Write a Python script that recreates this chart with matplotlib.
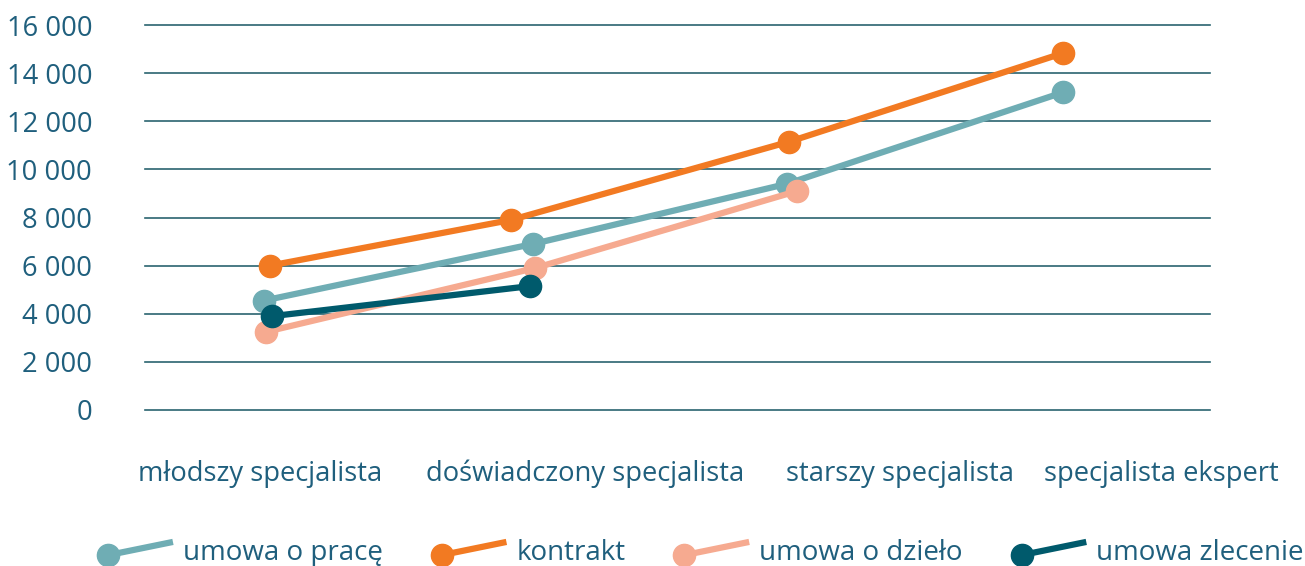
import matplotlib
matplotlib.use("Agg")
import matplotlib.pyplot as plt
from matplotlib.legend_handler import HandlerBase
from matplotlib.lines import Line2D
import numpy as np

# categories and monthly pay (PLN) per contract type
categories = ["młodszy specjalista", "doświadczony specjalista",
              "starszy specjalista", "specjalista ekspert"]
umowa_o_prace = [4550, 6900, 9400, 13200]
kontrakt = [6000, 7900, 11150, 14830]
umowa_o_dzielo = [3250, 5900, 9100]
umowa_zlecenie = [3900, 5150]

series_names = ["umowa o pracę", "kontrakt", "umowa o dzieło", "umowa zlecenie"]
series_values = [umowa_o_prace, kontrakt, umowa_o_dzielo, umowa_zlecenie]
colors = ["#6fadb4", "#f27a22", "#f6aa90", "#005a6c"]
# small horizontal nudges so markers don't sit exactly on top of each other
nudges = [[0, 0.01, -0.036, 0.0],
          [0.022, -0.072, -0.028, 0.0],
          [0.008, 0.018, 0.002],
          [0.03, 0.0]]
label_pos = [-0.015, 1.206, 2.388, 3.371]

text_col = "#1f5f7d"
grid_col = "#2a6470"
plt.rcParams["font.family"] = ["Open Sans", "DejaVu Sans"]


class SlopedHandler(HandlerBase):
    # marker on the left, line rising to the right
    def create_artists(self, legend, orig_handle, xdescent, ydescent,
                       width, height, fontsize, trans):
        x0 = -xdescent
        x1 = -xdescent + width
        y0 = -ydescent + 0.25 * height
        y1 = y0 + 9.5
        ln = Line2D([x0, x1], [y0, y1], color=orig_handle.get_color(),
                    lw=orig_handle.get_linewidth(), marker="o",
                    markevery=[0], markersize=orig_handle.get_markersize(),
                    solid_capstyle="butt")
        ln.set_transform(trans)
        return [ln]


fig = plt.figure(figsize=(13.05, 5.66), dpi=100)
ax = fig.add_axes([145 / 1305, 1 - 410 / 566, 1065 / 1305, 385 / 566])

handles = []
for name, vals, col, nd in zip(series_names, series_values, colors, nudges):
    x = np.arange(len(vals)) + np.array(nd)
    h, = ax.plot(x, vals, color=col, lw=4.5, marker="o", markersize=16,
                 label=name, solid_capstyle="butt", zorder=3)
    handles.append(h)

ax.set_xlim(-0.447, 3.552)
ax.set_ylim(0, 16000)
ax.set_yticks(np.arange(0, 16001, 2000))
ax.set_yticklabels([f"{v:,}".replace(",", " ") for v in range(0, 16001, 2000)])
ax.set_xticks(label_pos)
ax.set_xticklabels(categories)

for v in range(0, 16001, 2000):
    ax.axhline(v, color=grid_col, lw=1.2, zorder=1, clip_on=False)

for s in ax.spines.values():
    s.set_visible(False)
ax.tick_params(axis="both", length=0, colors=text_col, labelsize=19.7)
ax.tick_params(axis="y", pad=38)
ax.tick_params(axis="x", pad=36)

leg = fig.legend(handles=handles, loc="center", ncol=4,
                 bbox_to_anchor=(0.541, 0.023), frameon=False,
                 handler_map={Line2D: SlopedHandler()},
                 handlelength=2.33, handletextpad=0.36, columnspacing=2.12,
                 fontsize=20, labelcolor=text_col)

fig.savefig("out.png", dpi=100)
